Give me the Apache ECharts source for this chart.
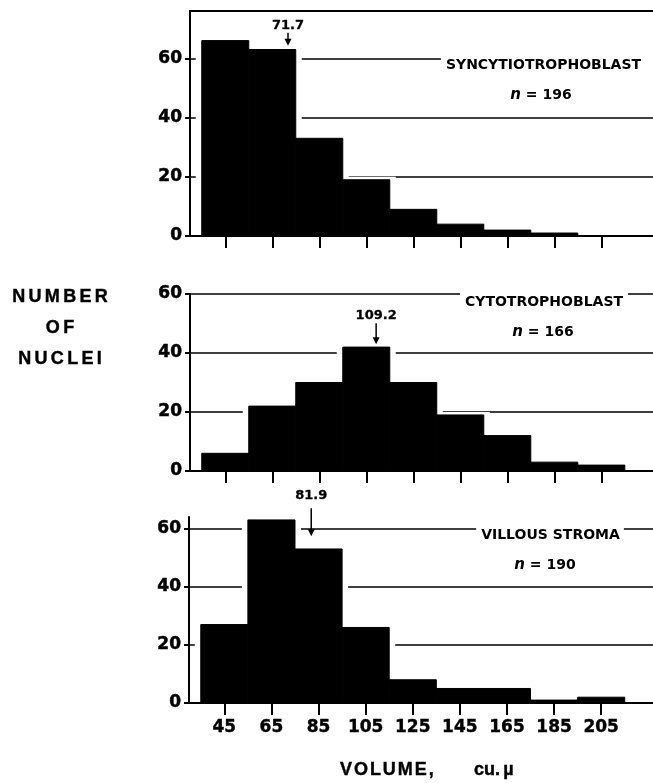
<!DOCTYPE html>
<html><head><meta charset="utf-8">
<script src="https://cdn.jsdelivr.net/npm/echarts@6/dist/echarts.min.js"></script>
<style>html,body{margin:0;padding:0;background:#fff}#c{width:653px;height:783px}</style>
</head><body><div id="c"></div>
<script>
// ---- data ----
const binCenters = [45, 65, 85, 105, 125, 145, 165, 185, 205];
const binWidth = 20;
const syncytiotrophoblast = [66, 63, 33, 19, 9, 4, 2, 1, 0];
const cytotrophoblast = [6, 22, 30, 42, 30, 19, 12, 3, 2];
const villousStroma = [27, 63, 53, 26, 8, 5, 5, 1, 2];
const panelNames = ['SYNCYTIOTROPHOBLAST', 'CYTOTROPHOBLAST', 'VILLOUS STROMA'];
const panelN = [196, 166, 190];
const meanVolumes = [71.7, 109.2, 81.9];
const arrowTipCounts = [64.3, 43, 57.4];
const yTickValues = [0, 20, 40, 60];
const yMaxValues = [76, 60, 64];
const xRange = [30, 227];

// ---- layout / style ----
const panels = [syncytiotrophoblast, cytotrophoblast, villousStroma];
const grids = [
  {left: 190, right: 0, top: 11, height: 225},
  {left: 190, right: 0, top: 294, height: 177},
  {left: 189, right: 0, top: 517, height: 186}
];
const arrowLen = [13, 21, 28];
const labelGap = [1, 1, 6];
const titlePos = [[549, 65], [544, 302], [550, 535]];
const titlePad = [[2, 16, 2, 5], [2, 5, 2, 5], [2, 4, 2, 5]];
const nPos = [[541, 95], [543, 332], [545, 565]];
const numFont = '"DejaVu Sans"';
const txtFont = '"Liberation Sans"';

function spaced(word) {
  return word.split('').join('{s| }');
}

const xAxes = [], yAxes = [], series = [];
panels.forEach((vals, i) => {
  xAxes.push({
    type: 'value', gridIndex: i, min: xRange[0], max: xRange[1],
    axisLine: {show: true, lineStyle: {color: '#000', width: 2}},
    axisTick: {show: true, customValues: binCenters, length: 12, inside: false, lineStyle: {color: '#000', width: 2}},
    axisLabel: {show: i === 2, customValues: binCenters, margin: 16, color: '#000',
      fontFamily: numFont, fontWeight: 'bold', fontSize: 17, textBorderColor: '#000', textBorderWidth: 0.4},
    splitLine: {show: false}
  });
  const splitColors = yTickValues.map(() => '#000');
  splitColors.push('rgba(0,0,0,0)');
  yAxes.push({
    type: 'value', gridIndex: i, min: 0, max: yMaxValues[i], interval: 20,
    axisLine: {show: true, lineStyle: {color: '#000', width: 2}},
    axisTick: {show: true, customValues: yTickValues, length: 5, lineStyle: {color: '#000', width: 2}},
    axisLabel: {show: true, customValues: yTickValues, margin: 8, color: '#000',
      fontFamily: numFont, fontWeight: 'bold', fontSize: 17, textBorderColor: '#000', textBorderWidth: 0.5},
    splitLine: {show: true, lineStyle: {color: splitColors, width: 1.5}}
  });
  const data = binCenters.map((c, j) => [c, vals[j]]);
  const gap = 6, gapTop = 3;
  series.push({
    type: 'custom', xAxisIndex: i, yAxisIndex: i, silent: true, z: 3,
    data: data,
    renderItem: (params, api) => {
      const c = api.value(0), v = api.value(1);
      if (!v) return null;
      const p0 = api.coord([c - binWidth / 2, v]);
      const p1 = api.coord([c + binWidth / 2, 0]);
      return {type: 'rect', shape: {x: p0[0] - gap, y: p0[1] - gapTop, width: p1[0] - p0[0] + 2 * gap, height: p1[1] - p0[1] + gapTop - 1.5},
        style: {fill: '#fff'}};
    }
  });
  series.push({
    type: 'custom', xAxisIndex: i, yAxisIndex: i, silent: true, z: 4,
    data: data,
    renderItem: (params, api) => {
      const c = api.value(0), v = api.value(1);
      if (!v) return null;
      const p0 = api.coord([c - binWidth / 2, v]);
      const p1 = api.coord([c + binWidth / 2, 0]);
      return {type: 'rect', shape: {x: p0[0], y: p0[1], width: p1[0] - p0[0], height: p1[1] - p0[1]},
        style: {fill: '#000', stroke: '#000', lineWidth: 1}};
    }
  });
  series.push({
    type: 'custom', xAxisIndex: i, yAxisIndex: i, silent: true, z: 5,
    data: [[meanVolumes[i], arrowTipCounts[i]]],
    renderItem: (params, api) => {
      const p = api.coord([api.value(0), api.value(1)]);
      const x = p[0], y = p[1], L = arrowLen[i];
      return {type: 'group', children: [
        {type: 'line', shape: {x1: x, y1: y - L, x2: x, y2: y - 3}, style: {stroke: '#000', lineWidth: 1.5}},
        {type: 'polygon', shape: {points: [[x - 3.5, y - 7], [x + 3.5, y - 7], [x, y]]}, style: {fill: '#000'}},
        {type: 'text', style: {text: String(meanVolumes[i]), x: x, y: y - L - labelGap[i], align: 'center', verticalAlign: 'bottom',
          fill: '#000', font: 'bold 13px ' + numFont, stroke: '#000', lineWidth: 0.3}}
      ]};
    }
  });
});
// top border line of first panel
xAxes.push({
  type: 'value', gridIndex: 0, position: 'top', min: xRange[0], max: xRange[1],
  axisLine: {show: true, lineStyle: {color: '#000', width: 2}},
  axisTick: {show: false}, axisLabel: {show: false}, splitLine: {show: false}
});

const graphics = [];
panels.forEach((vals, i) => {
  graphics.push({type: 'text', z: 100, x: titlePos[i][0], y: titlePos[i][1],
    style: {text: panelNames[i], align: 'center', verticalAlign: 'middle', fill: '#000',
      font: 'bold 14px ' + numFont, backgroundColor: '#fff', padding: titlePad[i]}});
  graphics.push({type: 'text', z: 100, x: nPos[i][0], y: nPos[i][1],
    style: {text: '{i|n} = ' + panelN[i], align: 'center', verticalAlign: 'middle', fill: '#000',
      font: 'bold 14px ' + numFont,
      rich: {i: {fontStyle: 'italic', fontWeight: 'bold', fontSize: 15, fontFamily: 'DejaVu Sans'}}}});
});
const richSp = {s: {fontSize: 7, fontFamily: 'Liberation Sans'}};
const richSpWide = {s: {fontSize: 12, fontFamily: 'Liberation Sans'}};
['NUMBER', 'OF', 'NUCLEI'].forEach((w, k) => {
  graphics.push({type: 'text', z: 100, x: 60, y: 297 + k * 31,
    style: {text: spaced(w), align: 'center', verticalAlign: 'middle', fill: '#000',
      font: 'bold 18px ' + txtFont, stroke: '#000', lineWidth: 0.4, rich: richSpWide}});
});
graphics.push({type: 'text', z: 100, x: 340, y: 770,
  style: {text: spaced('VOLUME,'), align: 'left', verticalAlign: 'middle',
    fill: '#000', font: 'bold 18px ' + txtFont, stroke: '#000', lineWidth: 0.4, rich: richSp}});
graphics.push({type: 'text', z: 100, x: 474, y: 770,
  style: {text: 'cu.{s| }µ', align: 'left', verticalAlign: 'middle',
    fill: '#000', font: 'bold 18px ' + txtFont, stroke: '#000', lineWidth: 0.4, rich: richSpWide}});

const chart = echarts.init(document.getElementById('c'));
chart.setOption({
  animation: false,
  backgroundColor: '#fff',
  grid: grids,
  xAxis: xAxes,
  yAxis: yAxes,
  series: series,
  graphic: graphics
});
</script>
</body></html>
